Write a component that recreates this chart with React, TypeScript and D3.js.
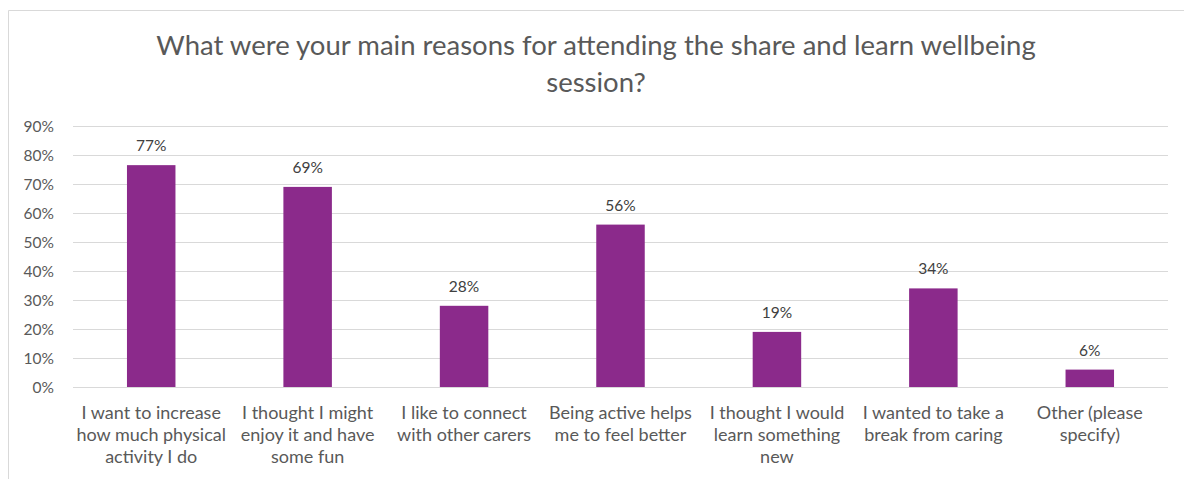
import { useMemo } from "react";
import * as d3 from "d3";

const WIDTH = 1184;
const HEIGHT = 479;
const MARGIN = { top: 126, right: 16, bottom: 92, left: 73 };
const BAR_PADDING = 0.69;
const FONT = "Lato, 'Open Sans', sans-serif";

const categories = [
  ["I want to increase", "how much physical", "activity I do"],
  ["I thought I might", "enjoy it and have", "some fun"],
  ["I like to connect", "with other carers"],
  ["Being active helps", "me to feel better"],
  ["I thought I would", "learn something", "new"],
  ["I wanted to take a", "break from caring"],
  ["Other (please", "specify)"],
];
const values = [0.765, 0.69, 0.28, 0.56, 0.19, 0.34, 0.06];
const yTicks = [0, 0.1, 0.2, 0.3, 0.4, 0.5, 0.6, 0.7, 0.8, 0.9];
const titleLines = [
  "What were your main reasons for attending the share and learn wellbeing",
  "session?",
];

const App = () => {
  const boundsWidth = WIDTH - MARGIN.left - MARGIN.right;
  const boundsHeight = HEIGHT - MARGIN.top - MARGIN.bottom;
  const keys = categories.map((c, i) => String(i));

  // outer padding = half the inner one so each bar sits in the middle of its slot
  const xScale = useMemo(
    () =>
      d3
        .scaleBand()
        .domain(keys)
        .range([0, boundsWidth])
        .paddingInner(BAR_PADDING)
        .paddingOuter(BAR_PADDING / 2),
    []
  );
  const yScale = useMemo(
    () => d3.scaleLinear().domain([0, 0.9]).range([boundsHeight, 0]),
    []
  );
  const fmt = d3.format(".0%");

  return (
    <svg width={WIDTH} height={HEIGHT} style={{ position: "absolute", left: 0, top: 0 }}>
      <rect x={0} y={0} width={WIDTH} height={HEIGHT} fill="#ffffff" />
      {/* chart frame, cut off on the right and bottom */}
      <path d={`M8.5,${HEIGHT} V10.5 H${WIDTH}`} fill="none" stroke="#d9d9d9" strokeWidth={1} />

      {titleLines.map((t, i) => (
        <text
          key={i}
          x={596}
          y={55 + i * 37}
          textAnchor="middle"
          fontFamily={FONT}
          fontSize={27.5}
          fill="#595959"
        >
          {t}
        </text>
      ))}

      <g transform={`translate(${MARGIN.left},${MARGIN.top})`}>
        {yTicks.map((v, i) => (
          <g key={i}>
            <line
              x1={0}
              x2={boundsWidth}
              y1={Math.round(yScale(v)) + 0.5}
              y2={Math.round(yScale(v)) + 0.5}
              stroke="#d9d9d9"
              strokeWidth={1}
            />
            <text
              x={-19}
              y={yScale(v)}
              textAnchor="end"
              dominantBaseline="central"
              fontFamily={FONT}
              fontSize={15.5}
              fill="#595959"
            >
              {fmt(v)}
            </text>
          </g>
        ))}

        {values.map((v, i) => {
          const x = xScale(String(i)) ?? 0;
          return (
            <g key={i}>
              <rect
                x={x}
                y={yScale(v)}
                width={xScale.bandwidth()}
                height={boundsHeight - yScale(v)}
                fill="#8b2a8b"
              />
              <text
                x={x + xScale.bandwidth() / 2}
                y={yScale(v) - 14}
                textAnchor="middle"
                fontFamily={FONT}
                fontSize={15.5}
                fill="#404040"
              >
                {fmt(Math.round(v * 100) / 100)}
              </text>
            </g>
          );
        })}

        {categories.map((lines, i) => {
          const cx = (xScale(String(i)) ?? 0) + xScale.bandwidth() / 2;
          return (
            <text
              key={i}
              x={cx}
              y={boundsHeight + 32}
              textAnchor="middle"
              fontFamily={FONT}
              fontSize={18}
              fill="#595959"
            >
              {lines.map((l, j) => (
                <tspan key={j} x={cx} dy={j === 0 ? 0 : 22}>
                  {l}
                </tspan>
              ))}
            </text>
          );
        })}
      </g>
    </svg>
  );
};

export default App;
